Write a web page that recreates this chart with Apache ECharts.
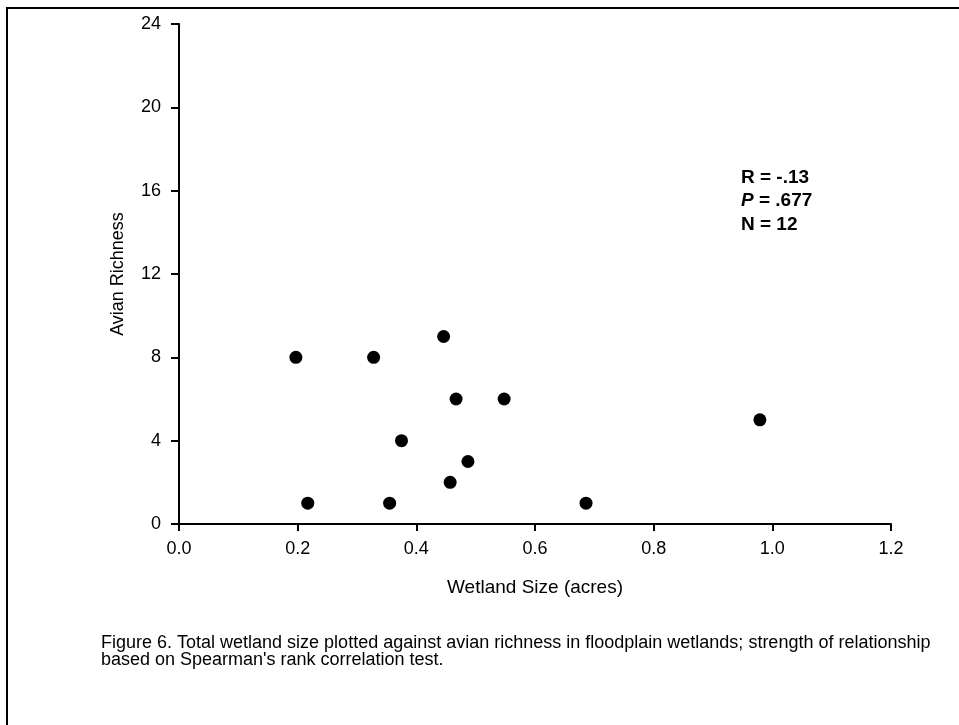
<!DOCTYPE html>
<html lang="en">
<head>
  <meta charset="UTF-8">
  <title>Wetland size vs avian richness</title>
  <style>
    html, body { margin: 0; padding: 0; background: #fff; }
  </style>
</head>
<body>
<div id="main" style="width:959px; height:725px;"></div>

<script src="https://cdn.jsdelivr.net/npm/echarts@6/dist/echarts.min.js"></script>

<script>
  var chartDom = document.getElementById("main");
  var myChart = echarts.init(chartDom);

  // wetland size (acres) and avian richness, one entry per wetland
  var wetlandSize = [0.197, 0.328, 0.446, 0.467, 0.548, 0.375, 0.487, 0.457, 0.217, 0.355, 0.686, 0.979];
  var avianRichness = [8, 8, 9, 6, 6, 4, 3, 2, 1, 1, 1, 5];

  var statsLines = ['R = -.13', 'P = .677', 'N = 12'];
  var caption = [
    'Figure 6. Total wetland size plotted against avian richness in floodplain wetlands; strength of relationship',
    "based on Spearman's rank correlation test."
  ];

  var points = wetlandSize.map(function (x, i) {
    return [x, avianRichness[i]];
  });

  var font = 'Arial, "Liberation Sans", sans-serif';

  option = {
    backgroundColor: '#fff',
    animation: false,
    grid: {
      left: 179,
      right: 68,
      top: 24,
      bottom: 201
    },
    xAxis: {
      type: 'value',
      min: 0,
      max: 1.2,
      interval: 0.2,
      name: 'Wetland Size (acres)',
      nameLocation: 'middle',
      nameGap: 54,
      nameTextStyle: { color: '#000', fontSize: 19, fontFamily: font },
      axisLine: { lineStyle: { color: '#000', width: 2 } },
      axisTick: { show: true, inside: false, length: 7, lineStyle: { color: '#000', width: 2 } },
      axisLabel: {
        color: '#000',
        fontSize: 18,
        fontFamily: font,
        margin: 16,
        formatter: function (v) { return v.toFixed(1); }
      },
      splitLine: { show: false }
    },
    yAxis: {
      type: 'value',
      min: 0,
      max: 24,
      interval: 4,
      name: 'Avian Richness',
      nameLocation: 'middle',
      nameGap: 52,
      nameTextStyle: { color: '#000', fontSize: 18, fontFamily: font },
      axisLine: { show: true, lineStyle: { color: '#000', width: 2 } },
      axisTick: { show: true, inside: false, length: 8, lineStyle: { color: '#000', width: 2 } },
      axisLabel: {
        color: '#000',
        fontSize: 18,
        fontFamily: font,
        margin: 18
      },
      splitLine: { show: false }
    },
    series: [{
      type: 'scatter',
      symbol: 'circle',
      symbolSize: 13,
      itemStyle: { color: '#000', opacity: 1 },
      data: points
    }],
    graphic: [
      // frame round the figure, runs off the right and bottom edges
      {
        type: 'rect',
        shape: { x: 7, y: 8, width: 1000, height: 800 },
        style: { fill: 'none', stroke: '#000', lineWidth: 2 },
        silent: true
      },
      {
        type: 'text',
        left: 741,
        top: 168,
        style: {
          text: '{b|' + statsLines[0] + '}\n{i|P}{b|' + statsLines[1].slice(1) + '}\n{b|' + statsLines[2] + '}',
          rich: {
            b: { fontSize: 19, fontWeight: 'bold', fontFamily: font, fill: '#000', lineHeight: 23.5 },
            i: { fontSize: 19, fontWeight: 'bold', fontStyle: 'italic', fontFamily: font, fill: '#000', lineHeight: 23.5 }
          }
        }
      },
      {
        type: 'text',
        left: 101,
        top: 634,
        style: {
          text: caption.join('\n'),
          fontSize: 18,
          lineHeight: 17,
          fontFamily: font,
          fill: '#000'
        }
      }
    ]
  };

  myChart.setOption(option);
</script>
</body>
</html>
